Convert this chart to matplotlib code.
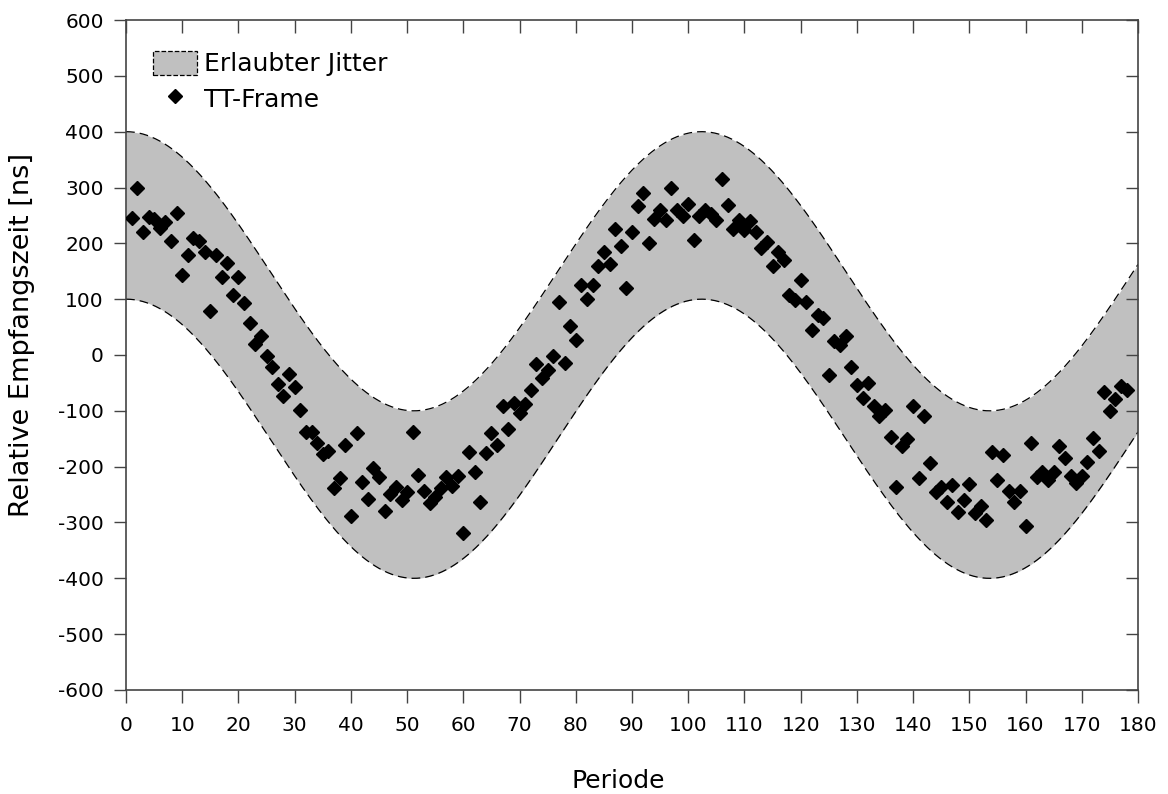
import numpy as np
import matplotlib.pyplot as plt
from matplotlib.patches import Patch
from matplotlib.lines import Line2D

# --- data ---
# allowed jitter band: centre swings as a cosine, band half-width fixed
band_amplitude = 250      # ns
band_halfwidth = 150      # ns
band_period = 102.4       # periods

periods = list(range(1, 179))
frame_ns = [
    245, 299, 220, 247, 244, 227, 238, 204, 254, 143,
    179, 210, 204, 184, 79, 179, 140, 165, 107, 140,
    93, 57, 20, 34, -2, -21, -52, -73, -34, -57,
    -99, -138, -138, -158, -177, -172, -238, -220, -161, -288,
    -140, -227, -258, -202, -218, -279, -249, -236, -260, -245,
    -138, -215, -244, -265, -254, -238, -218, -235, -217, -319,
    -174, -210, -263, -176, -140, -161, -91, -133, -86, -104,
    -88, -63, -16, -41, -27, -2, 95, -14, 52, 27,
    125, 100, 125, 159, 184, 163, 226, 195, 120, 220,
    267, 290, 201, 244, 260, 242, 299, 260, 249, 270,
    206, 249, 260, 253, 242, 315, 269, 226, 242, 224,
    240, 220, 192, 202, 159, 184, 170, 107, 98, 134,
    95, 45, 72, 66, -36, 25, 18, 34, -21, -54,
    -77, -50, -91, -109, -99, -147, -236, -163, -150, -91,
    -220, -109, -193, -245, -236, -263, -233, -281, -260, -231,
    -283, -270, -296, -174, -224, -179, -244, -263, -244, -306,
    -158, -218, -210, -224, -210, -163, -184, -217, -229, -217,
    -192, -149, -172, -66, -100, -79, -56, -63,
]

x_ticks = list(range(0, 181, 10))
y_ticks = list(range(-600, 601, 100))

# --- plot ---
plt.rcParams['font.family'] = ['DejaVu Sans']
plt.rcParams['axes.unicode_minus'] = False

fig = plt.figure(figsize=(11.68, 7.94), dpi=100)
ax = fig.add_axes([0.1079, 0.131, 0.8664, 0.8438])

xs = np.linspace(0, 180, 721)
centre = band_amplitude * np.cos(2 * np.pi * xs / band_period)
upper = centre + band_halfwidth
lower = centre - band_halfwidth

ax.fill_between(xs, lower, upper, color='#c0c0c0', lw=0, zorder=1)
ax.plot(xs, upper, color='black', lw=0.9, ls=(0, (7, 4)), zorder=2)
ax.plot(xs, lower, color='black', lw=0.9, ls=(0, (7, 4)), zorder=2)

ax.plot(periods, frame_ns, ls='none', marker='D', ms=7, mew=1,
        color='black', zorder=3)

ax.set_xlim(0, 180)
ax.set_ylim(-600, 600)
ax.set_xticks(x_ticks)
ax.set_yticks(y_ticks)
ax.tick_params(axis='both', labelsize=14.5, direction='out', length=9,
               width=1, colors='#444444', labelcolor='black')
ax.tick_params(axis='x', pad=10)
ax.tick_params(axis='y', pad=7)
ax.tick_params(top=True, right=True)
for t in ax.xaxis.get_major_ticks():
    t.tick2line.set_marker(3)   # inward on top
for t in ax.yaxis.get_major_ticks():
    t.tick2line.set_marker(0)   # inward on right
for s in ax.spines.values():
    s.set_linewidth(1.2)
    s.set_color('#444444')

ax.set_xlabel('Periode', fontsize=18, va='center')
ax.xaxis.set_label_coords(0.486, -0.136)
ax.set_ylabel('Relative Empfangszeit [ns]', fontsize=19.5, va='center')
ax.yaxis.set_label_coords(-0.1028, 0.53)

handles = [
    Patch(facecolor='#c0c0c0', edgecolor='black', ls='--', lw=0.9),
    Line2D([], [], ls='none', marker='D', ms=7.5, color='black'),
]
ax.legend(handles, ['Erlaubter Jitter', 'TT-Frame'], loc='upper left',
          frameon=False, fontsize=18, bbox_to_anchor=(0.019, 0.965),
          borderaxespad=0, handlelength=1.76, handleheight=1.08,
          labelspacing=0.4, handletextpad=0.3, borderpad=0.3)

fig.savefig('out.png', dpi=100)
